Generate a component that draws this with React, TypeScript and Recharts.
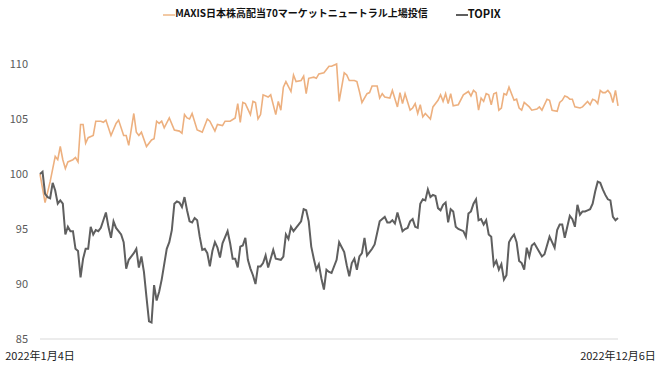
import { Legend, Line, LineChart, XAxis, YAxis } from "recharts";

// 2022-01-04 .. 2022-12-06, trading day index (0..228)
const dateLabels = ["2022年1月4日", "2022年12月6日"];
const lastDay = 228;
const yTicks = [85, 90, 95, 100, 105, 110];

const maxisDays = [
  0, 2, 4, 6, 7, 8, 9, 10, 11, 13,
  14, 15, 16, 17, 18, 19, 21, 22, 24, 25,
  26, 28, 30, 31, 33, 34, 35, 37, 38, 39,
  40, 42, 44, 45, 46, 47, 48, 49, 51, 53,
  55, 56, 57, 58, 59, 60, 62, 63, 64, 66,
  67, 69, 70, 72, 73, 75, 77, 78, 79, 80,
  81, 83, 84, 85, 86, 87, 88, 90, 91, 93,
  94, 95, 96, 97, 99, 100, 101, 103, 104, 105,
  106, 108, 109, 110, 112, 114, 115, 117, 118, 120,
  121, 122, 124, 125, 126, 127, 129, 130, 131, 133,
  134, 135, 136, 138, 139, 141, 142, 143, 144, 146,
  147, 148, 149, 150, 151, 152, 154, 155, 157, 158,
  159, 160, 161, 162, 163, 165, 167, 169, 170, 171,
  172, 173, 174, 175, 176, 177, 178, 179, 180, 181,
  182, 183, 184, 185, 187, 188, 189, 190, 191, 193,
  194, 196, 197, 198, 200, 201, 202, 204, 205, 206,
  207, 208, 209, 210, 211, 213, 214, 216, 217, 218,
  219, 220, 221, 222, 223, 224, 225, 226, 227, 228,
];
const maxisValues = [
  100.0, 97.4, 99.3, 101.6, 101.3, 102.5, 101.3, 100.5, 101.1, 101.3,
  101.5, 101.1, 104.5, 104.5, 102.8, 103.3, 103.5, 104.8, 104.8, 104.7,
  104.9, 103.5, 104.6, 104.9, 103.5, 103.5, 102.6, 105.5, 103.8, 103.5,
  103.8, 102.5, 103.1, 103.2, 104.8, 104.6, 104.8, 104.2, 105.1, 104.0,
  103.9, 103.7, 105.4, 105.1, 105.0, 105.5, 104.0, 103.9, 103.8, 105.0,
  104.8, 103.9, 104.5, 104.4, 104.8, 104.8, 105.1, 106.4, 104.7, 106.5,
  106.4, 105.4, 106.6, 106.5, 105.0, 105.4, 107.2, 107.0, 107.2, 105.4,
  106.6, 105.8, 107.9, 108.4, 107.5, 109.0, 108.4, 108.5, 108.9, 107.3,
  108.7, 108.8, 108.7, 109.1, 109.2, 109.8, 109.8, 110.0, 106.6, 109.2,
  109.0, 108.5, 108.5, 108.4, 107.5, 106.5, 107.3, 107.4, 108.0, 108.0,
  106.9, 107.3, 107.0, 106.9, 107.6, 106.1, 107.4, 106.4, 107.3, 105.8,
  106.0, 106.4, 105.5, 106.3, 105.2, 105.5, 105.0, 106.1, 106.7, 107.2,
  106.6, 107.3, 106.4, 107.3, 106.2, 106.3, 107.2, 107.5, 107.1, 107.6,
  107.4, 105.8, 106.9, 106.6, 107.3, 107.2, 106.3, 107.3, 107.4, 105.8,
  106.0, 107.3, 107.2, 107.9, 106.7, 106.8, 106.0, 105.8, 106.5, 106.1,
  105.8, 105.9, 106.1, 105.8, 106.8, 106.7, 105.8, 105.7, 106.5, 106.7,
  107.1, 107.0, 106.8, 106.8, 106.1, 106.0, 106.1, 106.6, 106.3, 106.8,
  106.7, 106.4, 107.6, 107.4, 107.4, 107.6, 107.3, 106.5, 107.6, 106.2,
];

const topixDays = [
  0, 1, 2, 3, 4, 5, 6, 7, 8, 9,
  10, 11, 12, 13, 14, 15, 16, 17, 18, 19,
  20, 21, 22, 23, 24, 25, 26, 27, 28, 29,
  30, 32, 33, 34, 35, 37, 38, 39, 40, 41,
  42, 43, 44, 45, 46, 47, 48, 50, 51, 52,
  53, 54, 55, 56, 57, 58, 59, 60, 61, 62,
  63, 64, 65, 66, 67, 68, 69, 70, 71, 72,
  74, 75, 76, 77, 78, 79, 80, 81, 82, 83,
  84, 85, 86, 87, 88, 89, 90, 91, 92, 93,
  95, 96, 97, 98, 99, 100, 101, 102, 103, 104,
  105, 106, 107, 108, 109, 110, 111, 112, 113, 114,
  115, 117, 118, 120, 121, 122, 123, 124, 125, 126,
  127, 128, 129, 130, 131, 132, 134, 135, 136, 137,
  138, 139, 140, 141, 143, 144, 145, 146, 147, 148,
  149, 150, 151, 152, 153, 154, 155, 156, 157, 158,
  159, 160, 161, 162, 163, 164, 165, 167, 168, 169,
  170, 171, 172, 173, 174, 175, 176, 177, 178, 179,
  180, 181, 182, 183, 184, 185, 186, 187, 188, 189,
  190, 191, 192, 193, 194, 195, 196, 198, 199, 201,
  202, 203, 204, 205, 206, 207, 208, 209, 210, 211,
  212, 213, 214, 215, 216, 217, 218, 219, 220, 221,
  222, 223, 224, 225, 226, 227, 228,
];
const topixValues = [
  100.0, 100.2, 98.2, 97.9, 97.8, 99.2, 98.5, 97.3, 97.6, 97.3,
  94.5, 95.2, 94.8, 94.8, 93.2, 93.0, 90.6, 92.3, 93.2, 93.2,
  95.2, 94.5, 94.9, 94.8, 95.1, 95.8, 96.5, 95.2, 94.2, 95.7,
  95.1, 94.5, 93.8, 91.4, 92.2, 92.8, 93.2, 91.5, 92.5, 91.1,
  88.8, 86.6, 86.5, 89.9, 88.5, 89.3, 90.4, 93.2, 93.8, 94.9,
  97.3, 97.5, 97.4, 97.0, 97.9, 96.7, 95.7, 95.6, 96.0, 95.8,
  94.3, 93.1, 93.2, 92.8, 91.6, 93.0, 93.8, 93.3, 92.4, 93.7,
  94.8, 93.7, 92.3, 92.3, 91.5, 93.4, 93.5, 94.2, 92.2, 91.4,
  90.8, 90.0, 91.6, 91.6, 91.9, 92.6, 91.5, 92.3, 93.1, 92.3,
  92.2, 92.5, 94.5, 94.1, 95.2, 94.8, 95.1, 95.4, 95.7, 96.8,
  96.7, 95.7, 93.4, 92.3, 91.3, 91.8, 90.5, 89.5, 91.3, 91.1,
  91.0, 92.2, 93.8, 92.9, 91.7, 90.7, 91.9, 92.3, 91.3, 92.5,
  92.8, 94.2, 92.6, 92.9, 93.2, 93.6, 95.7, 95.9, 96.1, 95.6,
  95.6, 95.8, 95.5, 96.5, 94.8, 95.0, 95.1, 95.7, 95.9, 95.2,
  95.1, 97.3, 97.7, 97.6, 98.6, 97.9, 98.1, 98.0, 96.9, 96.7,
  97.2, 97.4, 95.6, 96.8, 96.6, 95.2, 95.0, 94.8, 94.3, 96.4,
  96.6, 97.3, 97.7, 95.8, 95.9, 95.4, 95.8, 94.5, 94.3, 91.7,
  92.1, 91.3, 91.8, 90.4, 90.8, 93.8, 94.2, 94.5, 93.8, 92.1,
  91.9, 91.3, 93.3, 92.5, 93.5, 93.7, 93.3, 92.5, 92.7, 94.3,
  93.8, 93.3, 94.9, 95.4, 95.4, 94.2, 95.2, 96.2, 95.9, 95.2,
  97.2, 96.3, 96.6, 96.6, 96.7, 96.8, 97.3, 98.4, 99.3, 99.2,
  98.6, 98.1, 97.7, 97.6, 96.1, 95.8, 96.0,
];

const maxisName = "MAXIS日本株高配当70マーケットニュートラル上場投信";
const topixName = "TOPIX";

const maxisData = maxisDays.map((day, i) => ({ day, value: maxisValues[i] }));
const topixData = topixDays.map((day, i) => ({ day, value: topixValues[i] }));

const FONT = '"Noto Sans CJK JP", "Noto Sans", sans-serif';
const ORANGE = "#EDB07F";
const GRAY = "#5F5F5F";

function ChartLegend() {
  const items = [
    { name: maxisName, color: "#F2C9A4" },
    { name: topixName, color: GRAY },
  ];
  return (
    <div
      style={{
        display: "flex",
        justifyContent: "center",
        gap: 28,
        paddingLeft: 46,
        fontFamily: FONT,
        fontSize: 10,
        fontWeight: 700,
        color: "#111",
        lineHeight: "14px",
      }}
    >
      {items.map((it) => (
        <div key={it.name} style={{ display: "flex", alignItems: "center" }}>
          <span
            style={{
              display: "inline-block",
              width: 12,
              height: 2,
              marginTop: 3,
              background: it.color,
            }}
          />
          <span style={it.name === topixName ? { fontSize: 11 } : undefined}>
            {it.name}
          </span>
        </div>
      ))}
    </div>
  );
}

export default function App() {
  return (
    <div style={{ position: "absolute", left: 0, top: 0, background: "#fff" }}>
      <LineChart
        width={660}
        height={371}
        margin={{ top: 40, right: 42, bottom: 2, left: 0 }}
      >
        <Legend
          verticalAlign="top"
          height={24}
          content={() => <ChartLegend />}
          wrapperStyle={{ top: 6 }}
        />
        <XAxis
          type="number"
          dataKey="day"
          domain={[0, lastDay]}
          ticks={[0, lastDay]}
          tickFormatter={(v: number) => (v === 0 ? dateLabels[0] : dateLabels[1])}
          axisLine={{ stroke: "#D9D9D9" }}
          tickLine={false}
          tickMargin={7}
          height={30}
          tick={{ fill: "#222", fontSize: 11, fontFamily: FONT }}
        />
        <YAxis
          type="number"
          domain={[85, 110]}
          ticks={yTicks}
          axisLine={false}
          tickLine={false}
          width={40}
          tickMargin={6}
          tick={{ fill: "#595959", fontSize: 11, fontFamily: FONT }}
        />
        <Line
          data={maxisData}
          dataKey="value"
          name={maxisName}
          type="linear"
          stroke={ORANGE}
          strokeWidth={1.6}
          dot={false}
          isAnimationActive={false}
        />
        <Line
          data={topixData}
          dataKey="value"
          name={topixName}
          type="linear"
          stroke={GRAY}
          strokeWidth={2}
          dot={false}
          isAnimationActive={false}
        />
      </LineChart>
    </div>
  );
}
